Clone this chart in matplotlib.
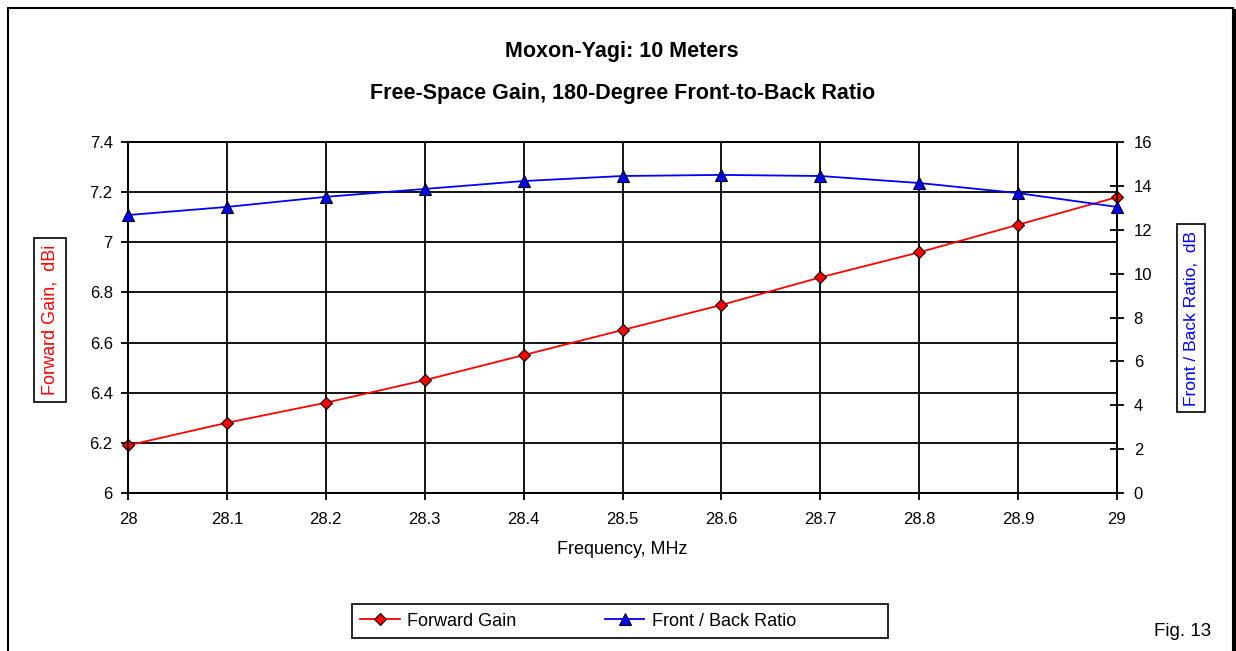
import matplotlib
matplotlib.use("Agg")
import matplotlib.pyplot as plt
from matplotlib.ticker import MultipleLocator, FuncFormatter
from matplotlib.patches import Rectangle
from matplotlib.lines import Line2D

plt.rcParams['font.family'] = ['Liberation Sans', 'DejaVu Sans']

freq = [28.0, 28.1, 28.2, 28.3, 28.4, 28.5, 28.6, 28.7, 28.8, 28.9, 29.0]
gain = [6.19, 6.28, 6.36, 6.45, 6.55, 6.65, 6.75, 6.86, 6.96, 7.07, 7.18]
fb_ratio = [12.67, 13.04, 13.5, 13.86, 14.22, 14.45, 14.5, 14.45, 14.13, 13.67, 13.04]

title1 = "Moxon-Yagi: 10 Meters"
title2 = "Free-Space Gain, 180-Degree Front-to-Back Ratio"

W, H = 1236, 651
fig = plt.figure(figsize=(W / 100, H / 100), dpi=100)
fig.patch.set_facecolor("white")

# plot area in pixels: x 128..1117, y 142..493
ax1 = fig.add_axes([128 / W, 1 - 493 / H, (1117 - 128) / W, (493 - 142) / H])
ax2 = ax1.twinx()

ax1.plot(freq, gain, color="red", lw=1.3, marker="D", ms=6.5,
         mfc="red", mec="black", mew=0.8, clip_on=False, zorder=3)
ax2.plot(freq, fb_ratio, color="blue", lw=1.3, marker="^", ms=8,
         mfc="blue", mec="black", mew=0.8, clip_on=False, zorder=3)

ax1.set_xlim(28, 29)
ax1.set_ylim(6, 7.4)
ax2.set_ylim(0, 16)
ax1.xaxis.set_major_locator(MultipleLocator(0.1))
ax1.yaxis.set_major_locator(MultipleLocator(0.2))
ax2.yaxis.set_major_locator(MultipleLocator(2))
fmt = FuncFormatter(lambda v, p: f"{v:g}")
ax1.xaxis.set_major_formatter(fmt)
ax1.yaxis.set_major_formatter(fmt)
ax2.yaxis.set_major_formatter(fmt)

ax1.grid(True, color="black", lw=1.3)
ax1.set_axisbelow(True)
for ax in (ax1, ax2):
    for s in ax.spines.values():
        s.set_color("black")
        s.set_linewidth(1.3)

ax1.tick_params(axis="x", direction="out", length=5, width=1.3, pad=9, labelsize=12)
ax1.tick_params(axis="y", direction="out", length=5, width=1.3, pad=6, labelsize=12)
ax2.tick_params(axis="y", direction="inout", length=10, width=1.3, pad=7, labelsize=12)

ax1.set_xlabel("Frequency, MHz", fontsize=13, labelpad=10)

# titles
fig.text(622 / W, 1 - 51 / H, title1, ha="center", va="center",
         fontsize=15.5, fontweight="bold")
fig.text(623 / W, 1 - 94 / H, title2, ha="center", va="center",
         fontsize=15.5, fontweight="bold")

# boxed axis labels
fig.text(50 / W, 1 - 320 / H, "Forward Gain,  dBi", rotation=90, color="red",
         ha="center", va="center", fontsize=13,
         bbox=dict(boxstyle="square,pad=0.4", fc="white", ec="black", lw=1.2))
fig.text(1191 / W, 1 - 318 / H, "Front / Back Ratio,  dB", rotation=90, color="blue",
         ha="center", va="center", fontsize=12.5,
         bbox=dict(boxstyle="square,pad=0.4", fc="white", ec="black", lw=1.2))

handles = [
    Line2D([], [], color="red", lw=1.3, marker="D", ms=6.5, mfc="red", mec="black", mew=0.8),
    Line2D([], [], color="blue", lw=1.3, marker="^", ms=8, mfc="blue", mec="black", mew=0.8),
]
fig.legend(handles, ["Forward Gain", "Front / Back Ratio"], loc="center left",
           bbox_to_anchor=(360 / W, 1 - 621 / H), ncol=2, fontsize=13,
           frameon=False, handlelength=2.2, handletextpad=0.4,
           columnspacing=4.9, borderpad=0, borderaxespad=0)
# legend box is wider than its entries
fig.patches.append(Rectangle((352 / W, 1 - 638 / H), (888 - 352) / W, 34 / H,
                             transform=fig.transFigure, fill=False,
                             ec="black", lw=1.2))

fig.text(1183 / W, 1 - 632 / H, "Fig. 13", ha="center", va="center", fontsize=13.5)

# outer frame of the picture
fig.patches.append(Rectangle((8 / W, -0.05), (1233 - 8) / W, 1.05 - 8 / H,
                             transform=fig.transFigure, fill=False,
                             ec="black", lw=1.5))
fig.patches.append(Rectangle((1233 / W, -0.05), 3 / W, 1.05 - 9 / H,
                             transform=fig.transFigure, fc="black", ec="none"))

fig.savefig("out.png", dpi=100)
